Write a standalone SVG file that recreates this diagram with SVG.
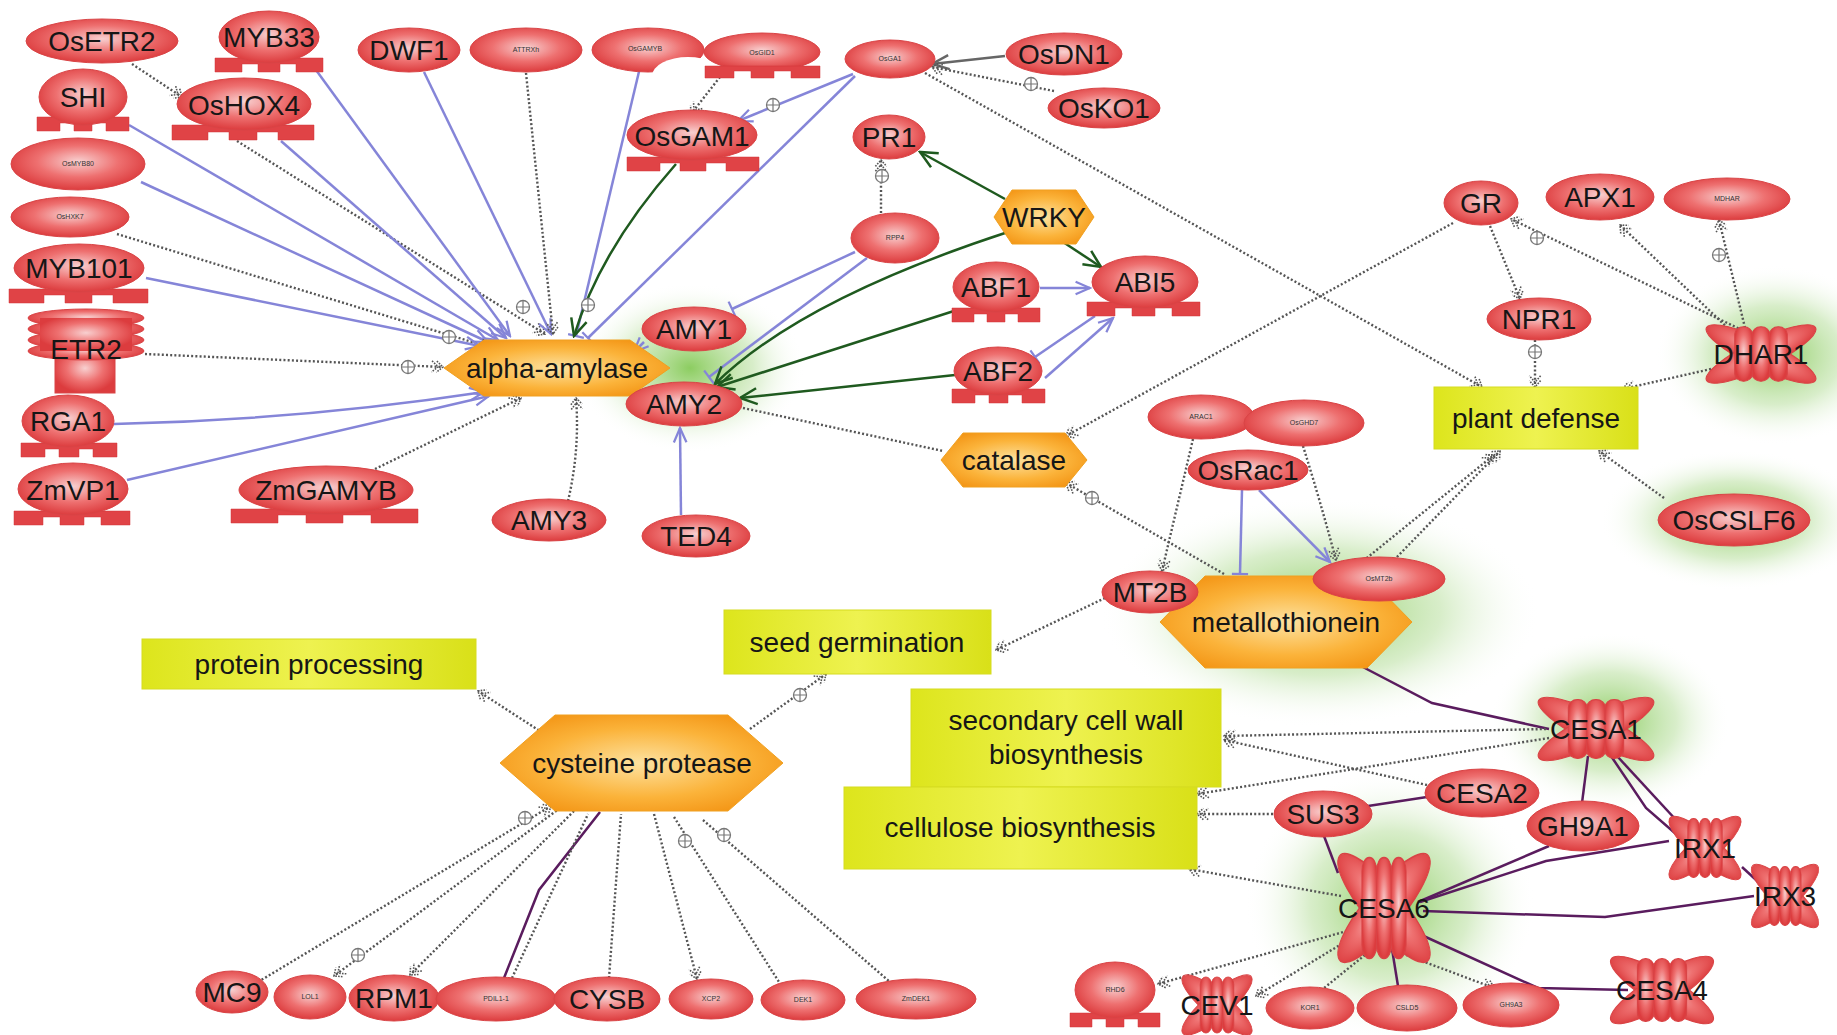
<svg xmlns="http://www.w3.org/2000/svg" xmlns:xlink="http://www.w3.org/1999/xlink" width="1837" height="1035" viewBox="0 0 1837 1035">
<defs>
<radialGradient id="rg" cx="0.5" cy="0.45" r="0.55">
<stop offset="0" stop-color="#f8d0d0"/><stop offset="0.55" stop-color="#ee7070"/><stop offset="1" stop-color="#dc3c3e"/>
</radialGradient>
<radialGradient id="og" cx="0.5" cy="0.5" r="0.6">
<stop offset="0" stop-color="#fde2a0"/><stop offset="0.6" stop-color="#fbb33a"/><stop offset="1" stop-color="#f39414"/>
</radialGradient>
<linearGradient id="yg" x1="0" y1="0" x2="1" y2="0">
<stop offset="0" stop-color="#dde51c"/><stop offset="0.5" stop-color="#eef250"/><stop offset="1" stop-color="#d9e018"/>
</linearGradient>
<radialGradient id="glow">
<stop offset="0" stop-color="#78c445" stop-opacity="0.85"/><stop offset="0.55" stop-color="#a8d888" stop-opacity="0.45"/><stop offset="1" stop-color="#ffffff" stop-opacity="0"/>
</radialGradient>
<marker id="ab" viewBox="0 0 20 20" refX="18" refY="10" markerWidth="18" markerHeight="18" orient="auto" markerUnits="userSpaceOnUse"><path d="M2,3 L18,10 L2,17" fill="none" stroke="#8585d8" stroke-width="2.5"/></marker>
<marker id="tb" viewBox="0 0 10 20" refX="6" refY="10" markerWidth="10" markerHeight="18" orient="auto" markerUnits="userSpaceOnUse"><path d="M6,1 V19" stroke="#8585d8" stroke-width="2.5"/></marker>
<marker id="ag" viewBox="0 0 20 20" refX="18" refY="10" markerWidth="20" markerHeight="20" orient="auto" markerUnits="userSpaceOnUse"><path d="M1,2 L18,10 L1,18" fill="none" stroke="#1f5a1f" stroke-width="2.5"/></marker>
<marker id="ak" viewBox="0 0 20 20" refX="18" refY="10" markerWidth="20" markerHeight="20" orient="auto" markerUnits="userSpaceOnUse"><path d="M1,3 L18,10 L1,17" fill="none" stroke="#666" stroke-width="2.5"/></marker>
<marker id="ad" viewBox="0 0 20 20" refX="17" refY="10" markerWidth="16" markerHeight="16" orient="auto" markerUnits="userSpaceOnUse"><path d="M3,3 L11,10 L3,17 M9,3 L17,10 L9,17" fill="none" stroke="#555" stroke-width="2" stroke-dasharray="2 1.5"/></marker>
<g id="pl"><circle r="6.5" fill="#fff" stroke="#777" stroke-width="1.3"/><path d="M-6.5,0 H6.5 M0,-6.5 V6.5" stroke="#777" stroke-width="1.2"/></g>
<g id="xs">
<ellipse rx="55" ry="14" transform="rotate(30)"/>
<ellipse rx="55" ry="14" transform="rotate(-30)"/>
<rect x="-23" y="-28" width="15.5" height="56" rx="7.5"/>
<rect x="-7.75" y="-28" width="15.5" height="56" rx="7.5"/>
<rect x="7.5" y="-28" width="15.5" height="56" rx="7.5"/>
</g>
<mask id="notch"><rect x="580" y="20" width="140" height="70" fill="#fff"/><ellipse cx="688" cy="76" rx="36" ry="19" fill="#000"/></mask>
</defs>
<style>
.n{fill:url(#rg);stroke:#d94446;stroke-width:1}
.bar{fill:#e04346;stroke:#d03538;stroke-width:0.5}
.x{fill:url(#rg);stroke:#d94446;stroke-width:1}
.x *{vector-effect:non-scaling-stroke}
.hx{fill:url(#og);stroke:#f0a020;stroke-width:1}
.bx{fill:url(#yg);stroke:#d6dc20;stroke-width:1}
.t{font-family:"Liberation Sans",Arial,sans-serif;font-size:28px;fill:#161616;text-anchor:middle}
.s{font-family:"Liberation Sans",Arial,sans-serif;font-size:7px;fill:#333;text-anchor:middle}
.b{fill:none;stroke:#8585d8;stroke-width:2.5}
.g{fill:none;stroke:#1f5a1f;stroke-width:2.5}
.k{fill:none;stroke:#666;stroke-width:2.5}
.d{fill:none;stroke:#555;stroke-width:2.4;stroke-dasharray:2 2.2}
.p{fill:none;stroke:#5a1c5e;stroke-width:2.5}
</style>
<rect width="1837" height="1035" fill="#fff"/>

<g id="glows">
<ellipse cx="690" cy="368" rx="115" ry="85" fill="url(#glow)"/>
<ellipse cx="1775" cy="355" rx="120" ry="90" fill="url(#glow)"/>
<ellipse cx="1735" cy="520" rx="135" ry="70" fill="url(#glow)"/>
<ellipse cx="1320" cy="612" rx="220" ry="115" fill="url(#glow)"/>
<ellipse cx="1610" cy="722" rx="120" ry="90" fill="url(#glow)"/>
<ellipse cx="1390" cy="905" rx="145" ry="135" fill="url(#glow)"/>
</g>

<g id="connectors">
<path class="d" d="M132,64 L182,97" marker-end="url(#ad)"/>
<path class="d" d="M237,141 L545,334" marker-end="url(#ad)"/>
<path class="b" d="M281,141 L506,338" marker-end="url(#ab)"/>
<path class="b" d="M316,70 L510,336" marker-end="url(#ab)"/>
<path class="b" d="M424,72 L551,334" marker-end="url(#ab)"/>
<path class="d" d="M526,73 L553,334" marker-end="url(#ad)"/>
<path class="b" d="M642,59 L576,336" marker-end="url(#tb)"/>
<path class="b" d="M855,76 L588,338" marker-end="url(#tb)"/>
<path class="g" d="M676,164 Q600,250 574,336" marker-end="url(#ag)"/>
<path class="b" d="M129,125 L498,340" marker-end="url(#ab)"/>
<path class="b" d="M141,182 L488,342" marker-end="url(#ab)"/>
<path class="d" d="M117,234 L492,348" marker-end="url(#ad)"/>
<path class="b" d="M146,278 L480,346" marker-end="url(#ab)"/>
<path class="d" d="M145,354 L443,367" marker-end="url(#ad)"/>
<path class="b" d="M114,424 Q300,420 484,392" marker-end="url(#ab)"/>
<path class="b" d="M127,480 L489,396" marker-end="url(#ab)"/>
<path class="d" d="M375,469 L521,398" marker-end="url(#ad)"/>
<path class="d" d="M568,501 Q580,450 576,398" marker-end="url(#ad)"/>
<path class="b" d="M644,342 L634,352" marker-end="url(#ab)"/>
<path class="b" d="M855,252 L732,309" marker-end="url(#tb)"/>
<path class="b" d="M867,258 L709,377" marker-end="url(#tb)"/>
<path class="g" d="M1005,199 L920,152" marker-end="url(#ag)"/>
<path class="g" d="M1060,240 L1101,267" marker-end="url(#ag)"/>
<path class="g" d="M1008,232 Q800,300 715,384" marker-end="url(#ag)"/>
<path class="g" d="M957,310 L717,387" marker-end="url(#ag)"/>
<path class="g" d="M955,375 L740,398" marker-end="url(#ag)"/>
<path class="b" d="M1040,288 L1090,288" marker-end="url(#ab)"/>
<path class="b" d="M1045,378 L1113,318" marker-end="url(#ab)"/>
<path class="b" d="M1095,316 L1035,357" marker-end="url(#tb)"/>
<path class="b" d="M681,515 L680,428" marker-end="url(#ab)"/>
<path class="d" d="M743,408 L943,451"/>
<path class="d" d="M881,213 L881,160" marker-end="url(#ad)"/>
<path class="k" d="M1005,56 L932,64" marker-end="url(#ak)"/>
<path class="d" d="M1054,91 L932,67" marker-end="url(#ad)"/>
<path class="b" d="M853,74 L738,121" marker-end="url(#ab)"/>
<path class="d" d="M925,73 L1482,387" marker-end="url(#ad)"/>
<path class="d" d="M720,77 L691,114" marker-end="url(#ad)"/>
<path class="d" d="M1453,223 L1066,436" marker-end="url(#ad)"/>
<path class="d" d="M1490,226 L1520,299" marker-end="url(#ad)"/>
<path class="d" d="M1746,332 L1511,219" marker-end="url(#ad)"/>
<path class="d" d="M1734,334 L1620,225" marker-end="url(#ad)"/>
<path class="d" d="M1746,332 L1719,220" marker-end="url(#ad)"/>
<path class="d" d="M1535,340 L1535,387" marker-end="url(#ad)"/>
<path class="d" d="M1711,369 L1623,389" marker-end="url(#ad)"/>
<path class="d" d="M1664,498 L1599,451" marker-end="url(#ad)"/>
<path class="d" d="M1394,560 L1500,451" marker-end="url(#ad)"/>
<path class="d" d="M1347,574 L1494,455" marker-end="url(#ad)"/>
<path class="d" d="M1193,439 L1162,571" marker-end="url(#ad)"/>
<path class="d" d="M1303,446 Q1320,500 1336,560" marker-end="url(#ad)"/>
<path class="b" d="M1242,490 L1240,574" marker-end="url(#tb)"/>
<path class="b" d="M1259,490 L1330,562" marker-end="url(#ab)"/>
<path class="d" d="M1224,574 L1066,483" marker-end="url(#ad)"/>
<path class="d" d="M1105,598 L996,650" marker-end="url(#ad)"/>
<path class="p" d="M1359,665 L1432,703 L1549,729"/>
<path class="d" d="M750,729 L826,674" marker-end="url(#ad)"/>
<path class="d" d="M546,735 L478,691" marker-end="url(#ad)"/>
<path class="d" d="M258,982 L551,806" marker-end="url(#ad)"/>
<path class="d" d="M560,808 L334,976" marker-end="url(#ad)"/>
<path class="d" d="M574,811 L410,975" marker-end="url(#ad)"/>
<path class="p" d="M504,978 L539,890 L600,812"/>
<path class="d" d="M512,978 L588,814"/>
<path class="d" d="M609,978 L621,814"/>
<path class="d" d="M654,814 L697,979" marker-end="url(#ad)"/>
<path class="d" d="M674,817 L779,982"/>
<path class="d" d="M703,820 L890,982"/>
<path class="d" d="M1546,729 L1224,736" marker-end="url(#ad)"/>
<path class="d" d="M1549,738 L1197,794" marker-end="url(#ad)"/>
<path class="d" d="M1427,785 L1224,740" marker-end="url(#ad)"/>
<path class="d" d="M1273,814 L1197,814" marker-end="url(#ad)"/>
<path class="d" d="M1341,896 L1189,869" marker-end="url(#ad)"/>
<path class="p" d="M1368,806 L1427,797"/>
<path class="p" d="M1324,836 L1338,873"/>
<path class="p" d="M1588,756 L1582,803"/>
<path class="p" d="M1611,756 L1646,808 L1684,841"/>
<path class="p" d="M1617,756 L1689,834"/>
<path class="p" d="M1418,902 L1549,846"/>
<path class="p" d="M1420,902 L1546,861 L1669,841"/>
<path class="p" d="M1423,911 L1605,917 L1754,896"/>
<path class="p" d="M1406,928 L1538,988 L1628,990"/>
<path class="p" d="M1742,867 L1767,890"/>
<path class="p" d="M1392,949 L1398,986"/>
<path class="d" d="M1347,931 L1158,984" marker-end="url(#ad)"/>
<path class="d" d="M1353,937 L1256,996" marker-end="url(#ad)"/>
<path class="d" d="M1365,955 L1324,988"/>
<path class="d" d="M1406,955 L1494,988" marker-end="url(#ad)"/>
<use href="#pl" x="523" y="307"/>
<use href="#pl" x="588" y="305"/>
<use href="#pl" x="449" y="337"/>
<use href="#pl" x="408" y="367"/>
<use href="#pl" x="773" y="105"/>
<use href="#pl" x="882" y="176"/>
<use href="#pl" x="1031" y="84"/>
<use href="#pl" x="1537" y="238"/>
<use href="#pl" x="1719" y="255"/>
<use href="#pl" x="1535" y="352"/>
<use href="#pl" x="1092" y="498"/>
<use href="#pl" x="800" y="695"/>
<use href="#pl" x="525" y="818"/>
<use href="#pl" x="358" y="955"/>
<use href="#pl" x="685" y="841"/>
<use href="#pl" x="724" y="835"/>
</g>

<g id="n-OsETR2"><ellipse class="n" cx="102" cy="41" rx="76" ry="22"/><text class="t" x="102" y="51">OsETR2</text></g>
<g id="n-MYB33"><path class="bar" d="M215 58 H323 V72 H296 V64 H280 V72 H258 V64 H242 V72 H215 Z"/><ellipse class="n" cx="269" cy="37" rx="50" ry="26"/><text class="t" x="269" y="47">MYB33</text></g>
<g id="n-DWF1"><ellipse class="n" cx="409" cy="50" rx="51" ry="22"/><text class="t" x="409" y="60">DWF1</text></g>
<g id="n-ATTRXh"><ellipse class="n" cx="526" cy="50" rx="56" ry="22"/><text class="s" x="526" y="52">ATTRXh</text></g>
<g id="n-OsGAMYB"><ellipse class="n" cx="648" cy="50" rx="56" ry="22" mask="url(#notch)"/><text class="s" x="645" y="51">OsGAMYB</text></g>
<g id="n-OsGID1"><ellipse class="n" cx="762" cy="52" rx="58" ry="19"/><path class="bar" d="M705 66 H820 V78 H791 V71 H774 V78 H751 V71 H734 V78 H705 Z"/><text class="s" x="762" y="55">OsGID1</text></g>
<g id="n-OsGA1"><ellipse class="n" cx="890" cy="59" rx="45" ry="19"/><text class="s" x="890" y="61">OsGA1</text></g>
<g id="n-OsDN1"><ellipse class="n" cx="1064" cy="54" rx="58" ry="21"/><text class="t" x="1064" y="64">OsDN1</text></g>
<g id="n-OsKO1"><ellipse class="n" cx="1104" cy="108" rx="56" ry="20"/><text class="t" x="1104" y="118">OsKO1</text></g>
<g id="n-SHI"><path class="bar" d="M37 117 H129 V131 H106 V123 H92 V131 H74 V123 H60 V131 H37 Z"/><ellipse class="n" cx="83" cy="97" rx="44" ry="28"/><text class="t" x="83" y="107">SHI</text></g>
<g id="n-OsHOX4"><path class="bar" d="M172 125 H314 V140 H278 V132 H257 V140 H229 V132 H208 V140 H172 Z"/><ellipse class="n" cx="244" cy="104" rx="67" ry="26"/><text class="t" x="244" y="115">OsHOX4</text></g>
<g id="n-OsMYB80"><ellipse class="n" cx="78" cy="164" rx="67" ry="26"/><text class="s" x="78" y="166">OsMYB80</text></g>
<g id="n-OsHXK7"><ellipse class="n" cx="70" cy="217" rx="59" ry="20"/><text class="s" x="70" y="219">OsHXK7</text></g>
<g id="n-MYB101"><path class="bar" d="M9 289 H148 V303 H113 V295 H92 V303 H65 V295 H44 V303 H9 Z"/><ellipse class="n" cx="79" cy="268" rx="65" ry="24"/><text class="t" x="79" y="278">MYB101</text></g>
<g id="n-ETR2">
<rect class="n" x="55" y="348" width="60" height="45"/>
<ellipse class="n" cx="86" cy="318" rx="58" ry="9"/><ellipse class="n" cx="86" cy="329" rx="58" ry="9"/><ellipse class="n" cx="86" cy="340" rx="58" ry="9"/><ellipse class="n" cx="86" cy="351" rx="58" ry="9"/>
<rect x="40" y="318" width="92" height="33" fill="url(#rg)"/>
<text class="t" x="86" y="359">ETR2</text></g>
<g id="n-RGA1"><path class="bar" d="M21 443 H117 V457 H93 V449 H79 V457 H59 V449 H45 V457 H21 Z"/><ellipse class="n" cx="68" cy="421" rx="46" ry="26"/><text class="t" x="68" y="431">RGA1</text></g>
<g id="n-ZmVP1"><path class="bar" d="M14 511 H130 V525 H101 V517 H84 V525 H60 V517 H43 V525 H14 Z"/><ellipse class="n" cx="73" cy="489" rx="55" ry="26"/><text class="t" x="73" y="500">ZmVP1</text></g>
<g id="n-ZmGAMYB"><path class="bar" d="M231 509 H418 V523 H371 V515 H343 V523 H306 V515 H278 V523 H231 Z"/><ellipse class="n" cx="326" cy="490" rx="87" ry="24"/><text class="t" x="326" y="500">ZmGAMYB</text></g>
<g id="n-OsGAM1"><path class="bar" d="M627 157 H759 V171 H726 V163 H706 V171 H680 V163 H660 V171 H627 Z"/><ellipse class="n" cx="692" cy="135" rx="65" ry="25"/><text class="t" x="692" y="146">OsGAM1</text></g>
<g id="n-PR1"><ellipse class="n" cx="889" cy="137" rx="36" ry="22"/><text class="t" x="889" y="147">PR1</text></g>
<g id="n-RPP4"><ellipse class="n" cx="895" cy="238" rx="44" ry="25"/><text class="s" x="895" y="240">RPP4</text></g>
<g id="n-WRKY"><polygon class="hx" points="994,217 1012,190 1076,190 1094,217 1076,244 1012,244"/><text class="t" x="1044" y="227">WRKY</text></g>
<g id="n-ABF1"><path class="bar" d="M952 308 H1040 V322 H1018 V314 H1005 V322 H987 V314 H974 V322 H952 Z"/><ellipse class="n" cx="996" cy="287" rx="43" ry="25"/><text class="t" x="996" y="297">ABF1</text></g>
<g id="n-ABI5"><path class="bar" d="M1087 302 H1200 V316 H1172 V308 H1155 V316 H1132 V308 H1115 V316 H1087 Z"/><ellipse class="n" cx="1145" cy="282" rx="53" ry="26"/><text class="t" x="1145" y="292">ABI5</text></g>
<g id="n-ABF2"><path class="bar" d="M952 389 H1045 V403 H1022 V395 H1008 V403 H989 V395 H975 V403 H952 Z"/><ellipse class="n" cx="998" cy="371" rx="44" ry="24"/><text class="t" x="998" y="381">ABF2</text></g>
<g id="n-alpha-amylase"><polygon class="hx" points="444,368 484,340 630,340 670,368 630,396 484,396"/><text class="t" x="557" y="378">alpha-amylase</text></g>
<g id="n-AMY1"><ellipse class="n" cx="694" cy="329" rx="52" ry="22"/><text class="t" x="694" y="339">AMY1</text></g>
<g id="n-AMY2"><ellipse class="n" cx="684" cy="404" rx="58" ry="22"/><text class="t" x="684" y="414">AMY2</text></g>
<g id="n-AMY3"><ellipse class="n" cx="549" cy="520" rx="57" ry="21"/><text class="t" x="549" y="530">AMY3</text></g>
<g id="n-TED4"><ellipse class="n" cx="696" cy="536" rx="54" ry="21"/><text class="t" x="696" y="546">TED4</text></g>
<g id="n-catalase"><polygon class="hx" points="941,460 963,433 1065,433 1087,460 1065,487 963,487"/><text class="t" x="1014" y="470">catalase</text></g>
<g id="n-ARAC1"><ellipse class="n" cx="1201" cy="417" rx="53" ry="22"/><text class="s" x="1201" y="419">ARAC1</text></g>
<g id="n-OsGHD7"><ellipse class="n" cx="1304" cy="423" rx="60" ry="23"/><text class="s" x="1304" y="425">OsGHD7</text></g>
<g id="n-OsRac1"><ellipse class="n" cx="1248" cy="470" rx="60" ry="20"/><text class="t" x="1248" y="480">OsRac1</text></g>
<g id="n-GR"><ellipse class="n" cx="1481" cy="203" rx="37" ry="22"/><text class="t" x="1481" y="213">GR</text></g>
<g id="n-APX1"><ellipse class="n" cx="1600" cy="197" rx="54" ry="23"/><text class="t" x="1600" y="207">APX1</text></g>
<g id="n-MDHAR"><ellipse class="n" cx="1727" cy="199" rx="63" ry="21"/><text class="s" x="1727" y="201">MDHAR</text></g>
<g id="n-NPR1"><ellipse class="n" cx="1539" cy="319" rx="52" ry="21"/><text class="t" x="1539" y="329">NPR1</text></g>
<g id="n-DHAR1"><use class="x" href="#xs" transform="translate(1761,354) scale(1.14,0.97)"/><text class="t" x="1761" y="364">DHAR1</text></g>
<g id="n-plant-defense"><rect class="bx" x="1434" y="387" width="204" height="62"/><text class="t" x="1536" y="428">plant defense</text></g>
<g id="n-OsCSLF6"><ellipse class="n" cx="1734" cy="520" rx="76" ry="26"/><text class="t" x="1734" y="530">OsCSLF6</text></g>
<g id="n-metallothionein"><polygon class="hx" points="1160,622 1205,576 1367,576 1412,622 1367,668 1205,668"/><text class="t" x="1286" y="632">metallothionein</text></g>
<g id="n-MT2B"><ellipse class="n" cx="1150" cy="592" rx="48" ry="21"/><text class="t" x="1150" y="602">MT2B</text></g>
<g id="n-OsMT2b"><ellipse class="n" cx="1379" cy="579" rx="66" ry="22"/><text class="s" x="1379" y="581">OsMT2b</text></g>
<g id="n-seed-germination"><rect class="bx" x="724" y="610" width="267" height="64"/><text class="t" x="857" y="652">seed germination</text></g>
<g id="n-protein-processing"><rect class="bx" x="142" y="639" width="334" height="50"/><text class="t" x="309" y="674">protein processing</text></g>
<g id="n-cysteine-protease"><polygon class="hx" points="500,763 555,715 728,715 783,763 728,811 555,811"/><text class="t" x="642" y="773">cysteine protease</text></g>
<g id="n-secondary-cell-wall"><rect class="bx" x="911" y="689" width="310" height="98"/><text class="t" x="1066" y="730">secondary cell wall</text><text class="t" x="1066" y="764">biosynthesis</text></g>
<g id="n-cellulose"><rect class="bx" x="844" y="787" width="353" height="82"/><text class="t" x="1020" y="837">cellulose biosynthesis</text></g>
<g id="n-CESA1"><use class="x" href="#xs" transform="translate(1596,729) scale(1.2,1.05)"/><text class="t" x="1596" y="739">CESA1</text></g>
<g id="n-CESA2"><ellipse class="n" cx="1482" cy="793" rx="57" ry="24"/><text class="t" x="1482" y="803">CESA2</text></g>
<g id="n-SUS3"><ellipse class="n" cx="1323" cy="814" rx="49" ry="23"/><text class="t" x="1323" y="824">SUS3</text></g>
<g id="n-GH9A1"><ellipse class="n" cx="1583" cy="826" rx="56" ry="25"/><text class="t" x="1583" y="836">GH9A1</text></g>
<g id="n-IRX1"><use class="x" href="#xs" transform="translate(1705,848) scale(0.75,1.05)"/><text class="t" x="1705" y="858">IRX1</text></g>
<g id="n-IRX3"><use class="x" href="#xs" transform="translate(1785,896) scale(0.7,1.05)"/><text class="t" x="1785" y="906">IRX3</text></g>
<g id="n-CESA6"><use class="x" href="#xs" transform="translate(1384,908) scale(0.96,1.8)"/><text class="t" x="1384" y="918">CESA6</text></g>
<g id="n-CESA4"><use class="x" href="#xs" transform="translate(1662,990) scale(1.07,1.12)"/><text class="t" x="1662" y="1000">CESA4</text></g>
<g id="n-RHD6"><path class="bar" d="M1070 1013 H1160 V1027 H1138 V1019 H1124 V1027 H1106 V1019 H1092 V1027 H1070 Z"/><ellipse class="n" cx="1115" cy="990" rx="40" ry="28"/><text class="s" x="1115" y="992">RHD6</text></g>
<g id="n-CEV1"><use class="x" href="#xs" transform="translate(1217,1005) scale(0.73,1)"/><text class="t" x="1217" y="1015">CEV1</text></g>
<g id="n-KOR1"><ellipse class="n" cx="1310" cy="1008" rx="44" ry="21"/><text class="s" x="1310" y="1010">KOR1</text></g>
<g id="n-CSLD5"><ellipse class="n" cx="1407" cy="1008" rx="50" ry="23"/><text class="s" x="1407" y="1010">CSLD5</text></g>
<g id="n-GH9A3"><ellipse class="n" cx="1511" cy="1005" rx="48" ry="22"/><text class="s" x="1511" y="1007">GH9A3</text></g>
<g id="n-MC9"><ellipse class="n" cx="232" cy="992" rx="36" ry="21"/><text class="t" x="232" y="1002">MC9</text></g>
<g id="n-LOL1"><ellipse class="n" cx="310" cy="997" rx="36" ry="22"/><text class="s" x="310" y="999">LOL1</text></g>
<g id="n-RPM1"><ellipse class="n" cx="394" cy="998" rx="45" ry="23"/><text class="t" x="394" y="1008">RPM1</text></g>
<g id="n-PDIL1-1"><ellipse class="n" cx="496" cy="999" rx="60" ry="22"/><text class="s" x="496" y="1001">PDIL1-1</text></g>
<g id="n-CYSB"><ellipse class="n" cx="607" cy="999" rx="53" ry="22"/><text class="t" x="607" y="1009">CYSB</text></g>
<g id="n-XCP2"><ellipse class="n" cx="711" cy="999" rx="42" ry="20"/><text class="s" x="711" y="1001">XCP2</text></g>
<g id="n-DEK1"><ellipse class="n" cx="803" cy="1000" rx="42" ry="20"/><text class="s" x="803" y="1002">DEK1</text></g>
<g id="n-ZmDEK1"><ellipse class="n" cx="916" cy="999" rx="60" ry="20"/><text class="s" x="916" y="1001">ZmDEK1</text></g>
</svg>
